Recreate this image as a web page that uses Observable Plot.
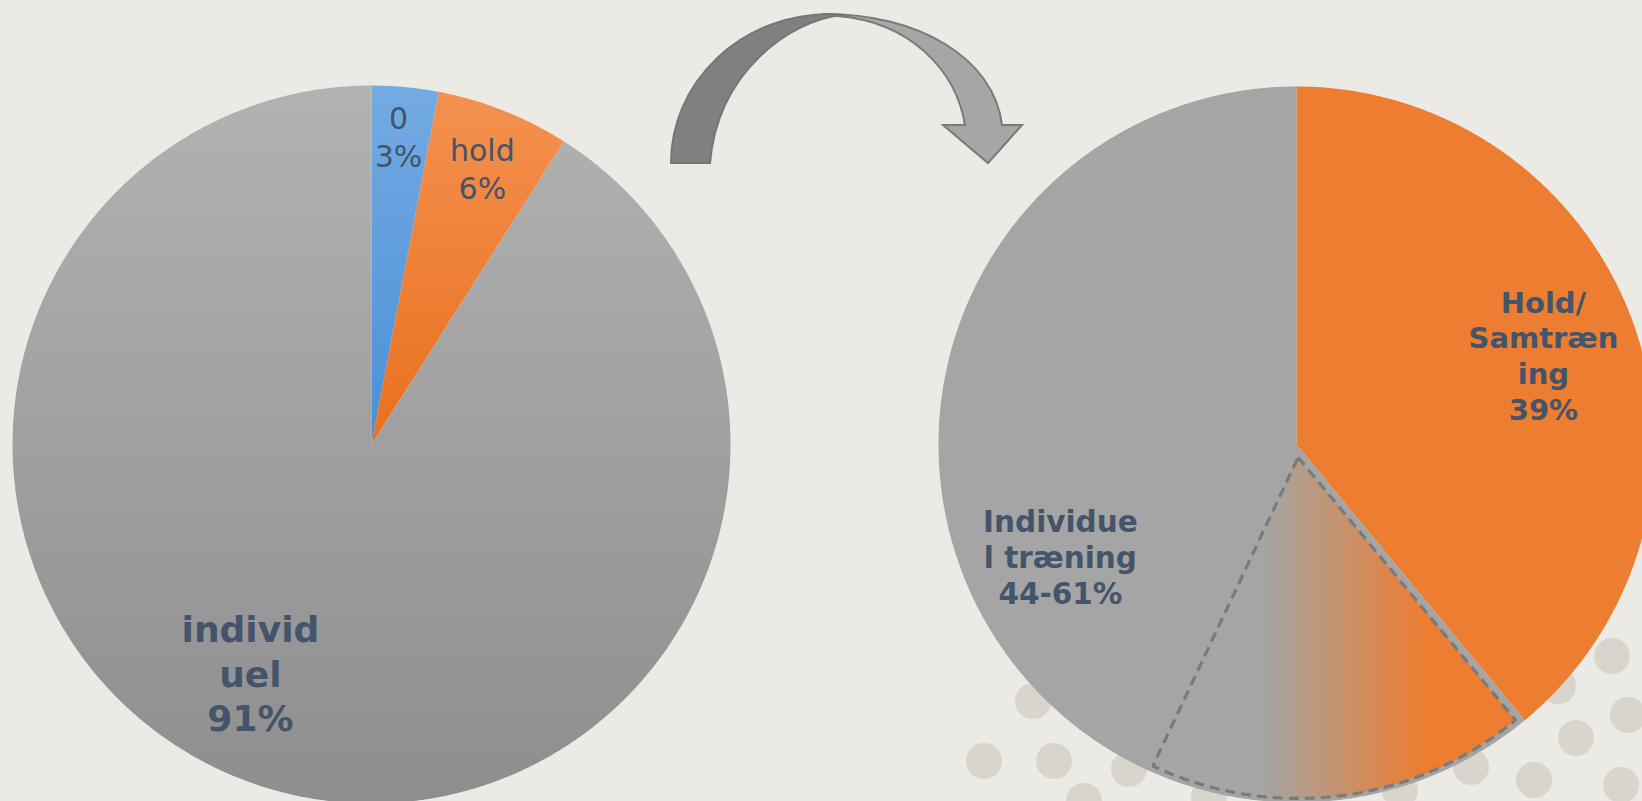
<!DOCTYPE html>
<html><head><meta charset="utf-8">
<script src="https://cdn.jsdelivr.net/npm/d3@7"></script>
<script src="https://cdn.jsdelivr.net/npm/@observablehq/plot@0.6"></script>
<style>html,body{margin:0;padding:0;background:#ebeae5;overflow:hidden}#chart svg{display:block}</style>
</head><body><div id="chart"></div>
<script>
// ---------- data ----------
const leftCategories = ["0", "hold", "individuel"];
const leftShares = [0.03, 0.06, 0.91];
const leftLabels = ["0\n3%", "hold\n6%", "individ\nuel\n91%"];

const rightCategories = ["Hold/Samtræning", "Individuel træning"];
const rightShares = [0.39, 0.61];
const rightLabels = ["Hold/\nSamtræn\ning\n39%", "Individue\nl træning\n44-61%"];
const holdRange = [0.39, 0.57]; // uncertain band as drawn in the picture

// ---------- layout / style ----------
const W = 1642, H = 801;
const leftPie = {cx: 371, cy: 444, r: 359};
const rightPie = {cx: 1296, cy: 444, r: 358};
const leftFills = ["url(#gBlue)", "url(#gOrange)", "url(#gGray)"];
const rightFills = ["#ed7d31", "#a5a5a5"];
const textColor = "#44546a";
const font = "DejaVu Sans, Verdana, sans-serif";
// label placement: angle (fraction of turn), radius (fraction of r), font size, weight, line height
const leftLabelLayout = [
  {a: 0.0139, k: 0.864, size: 30, weight: 400, lh: 1.27},
  {a: 0.0606, k: 0.831, size: 30, weight: 400, lh: 1.27},
  {a: 0.5777, k: 0.719, size: 36, weight: 700, lh: 1.24}
];
const rightLabelLayout = [
  {a: 0.1945, k: 0.734, size: 29, weight: 700, lh: 1.23},
  {a: 0.6795, k: 0.730, size: 29.5, weight: 700, lh: 1.21}
];
const wedgeOffset = 13, wedgeRadius = 341;

// ---------- geometry helpers ----------
const TAU = 2 * Math.PI;
function arcs(values) {
  return d3.pie().sort(null).startAngle(0).endAngle(TAU)(values);
}
function slicePoints(cx, cy, r, a0, a1, id) {
  const pts = [{x: cx, y: cy, id}];
  const steps = Math.max(2, Math.ceil((a1 - a0) / TAU * 900));
  for (let i = 0; i <= steps; i++) {
    const a = a0 + (a1 - a0) * i / steps;
    pts.push({x: cx + r * Math.sin(a), y: cy - r * Math.cos(a), id});
  }
  pts.push({x: cx, y: cy, id});
  return pts;
}
function labelRows(pie, labels, layout, cats) {
  return labels.map((t, i) => {
    const L = layout[i], a = L.a * TAU;
    return {cat: cats[i], text: t, x: pie.cx + L.k * pie.r * Math.sin(a), y: pie.cy - L.k * pie.r * Math.cos(a), ...L};
  });
}

const leftArcs = arcs(leftShares);
const rightArcs = arcs(rightShares);

const marks = [];
leftArcs.forEach((d, i) => {
  marks.push(Plot.line(slicePoints(leftPie.cx, leftPie.cy, leftPie.r, d.startAngle, d.endAngle, leftCategories[i]),
    {x: "x", y: "y", fill: leftFills[i], stroke: "none", curve: "linear"}));
});
rightArcs.forEach((d, i) => {
  marks.push(Plot.line(slicePoints(rightPie.cx, rightPie.cy, rightPie.r, d.startAngle, d.endAngle, rightCategories[i]),
    {x: "x", y: "y", fill: rightFills[i], stroke: "none", curve: "linear"}));
});
// uncertain range wedge (exploded slightly)
const w0 = holdRange[0] * TAU, w1 = holdRange[1] * TAU, wm = (w0 + w1) / 2;
const wcx = rightPie.cx + wedgeOffset * Math.sin(wm), wcy = rightPie.cy - wedgeOffset * Math.cos(wm);
const wedge = slicePoints(wcx, wcy, wedgeRadius, w0, w1, "uncertain");
// gray band along the 39% edge
marks.push(Plot.line([{x: wcx, y: wcy}, {x: wcx + wedgeRadius * Math.sin(w0), y: wcy - wedgeRadius * Math.cos(w0)}],
  {x: "x", y: "y", stroke: "#a5a5a5", strokeWidth: 5}));
marks.push(Plot.line(wedge, {x: "x", y: "y", fill: "url(#gUnc)", stroke: "none"}));
marks.push(Plot.line(wedge, {x: "x", y: "y", fill: "none", stroke: "#7a7a7a", strokeWidth: 3.2, strokeDasharray: "10,6", strokeLinecap: "butt", strokeLinejoin: "miter"}));

// labels
const lRows = labelRows(leftPie, leftLabels, leftLabelLayout, leftCategories);
const rRows = labelRows(rightPie, rightLabels, rightLabelLayout, rightCategories);
[...lRows, ...rRows].forEach(r => {
  marks.push(Plot.text([r], {x: "x", y: "y", text: "text", fill: textColor, fontSize: r.size, fontWeight: r.weight,
    fontFamily: font, lineHeight: r.lh, textAnchor: "middle", lineAnchor: "middle"}));
});

const svg = Plot.plot({
  width: W, height: H, margin: 0,
  x: {domain: [0, W], axis: null},
  y: {domain: [0, H], reverse: true, axis: null},
  style: {background: "#ebeae5", overflow: "hidden"},
  marks
});

// ---------- defs (gradients) ----------
const defs = d3.select(svg).insert("defs", ":first-child");
function vgrad(id, c0, c1) {
  const g = defs.append("linearGradient").attr("id", id).attr("x1", 0).attr("y1", 0).attr("x2", 0).attr("y2", 1);
  g.append("stop").attr("offset", 0).attr("stop-color", c0);
  g.append("stop").attr("offset", 1).attr("stop-color", c1);
}
vgrad("gBlue", "#74abe2", "#4b8fd8");
vgrad("gOrange", "#f4914f", "#e9701e");
vgrad("gGray", "#b2b2b2", "#8e8e8e");
{
  const g = defs.append("linearGradient").attr("id", "gUnc").attr("gradientUnits", "userSpaceOnUse")
    .attr("x1", rightPie.cx - 0.095 * rightPie.r).attr("y1", 0)
    .attr("x2", rightPie.cx + 0.36 * rightPie.r).attr("y2", 0);
  g.append("stop").attr("offset", 0).attr("stop-color", "#a5a5a5");
  g.append("stop").attr("offset", 0.5).attr("stop-color", "#c8916b");
  g.append("stop").attr("offset", 1).attr("stop-color", "#ed7d31");
}

// ---------- decoration: background dots (under pies) ----------
const decoDots = [[1033,701],[984,761],[1054,761],[1129,769],[1084,801],[1209,797],[1400,790],[1471,767],
  [1534,780],[1621,785],[1576,738],[1628,715],[1612,656],[1558,686],[1160,745],[1330,760]];
const dotG = d3.select(svg).insert("g", "defs + *");
decoDots.forEach(([x, y]) => dotG.append("circle").attr("cx", x).attr("cy", y).attr("r", 18).attr("fill", "#d9d5cc"));

// ---------- decoration: curved arrow ----------
const arrowG = d3.select(svg).append("g");
arrowG.append("path")
  .attr("d", "M822,14 C918,13 994,58 1002,125 L1022,125 L988,163 L943,125 L965,125 C956,70 910,22 838,16 Z")
  .attr("fill", "#a6a6a6").attr("stroke", "#7a7a7a").attr("stroke-width", 2).attr("stroke-linejoin", "miter");
arrowG.append("path")
  .attr("d", "M671,163 A159,149 0 0 1 830,14 L842,15 C792,20 718,70 710,163 Z")
  .attr("fill", "#808080").attr("stroke", "#767676").attr("stroke-width", 2);

document.getElementById("chart").appendChild(svg);
</script>
</body></html>
